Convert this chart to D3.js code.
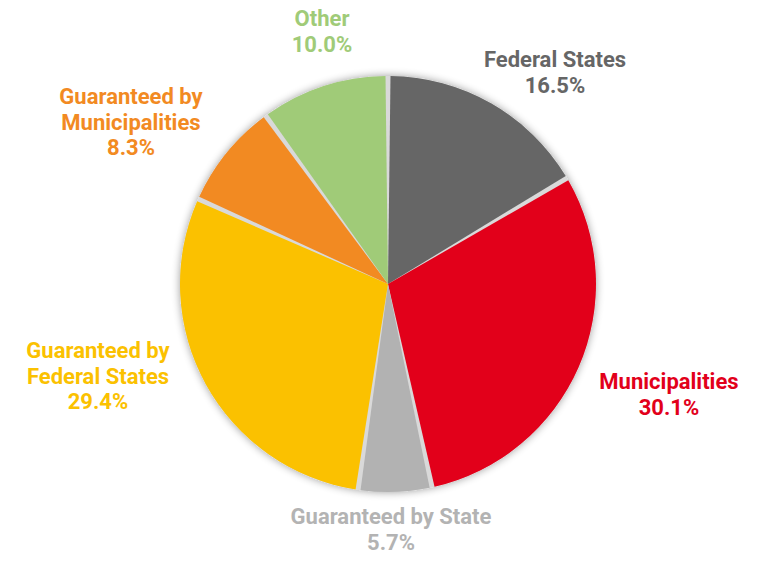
<!DOCTYPE html>
<html>
<head>
<meta charset="utf-8">
<script src="https://cdn.jsdelivr.net/npm/d3@7"></script>
<style>
  body { margin: 0; background: #fff; }
  text { font-family: Roboto, "Noto Sans", sans-serif; font-weight: 700; }
</style>
</head>
<body>
<div id="chart"></div>
<script>
var width = 769;
var height = 561;

// data
var categories = ["Federal States", "Municipalities", "Guaranteed by State",
  "Guaranteed by Federal States", "Guaranteed by Municipalities", "Other"];
var shares = [16.5, 30.1, 5.7, 29.4, 8.3, 10.0];
var colors = ["#666666", "#e2001a", "#b2b2b2", "#fbc100", "#f28a22", "#a0cb78"];
var labelLines = [
  ["Federal States"],
  ["Municipalities"],
  ["Guaranteed by State"],
  ["Guaranteed by", "Federal States"],
  ["Guaranteed by", "Municipalities"],
  ["Other"]
];

// label placement (x center, first baseline)
var labelPos = [[555, 67], [669, 389], [391, 524], [98, 358], [131, 104], [322, 26]];
var lineHeight = 25.5;

var cx = 388, cy = 284, radius = 208;

var svg = d3.select("#chart").append("svg")
  .attr("width", width)
  .attr("height", height);

var defs = svg.append("defs");
var shadow = defs.append("filter")
  .attr("id", "shadow")
  .attr("x", "-20%").attr("y", "-20%")
  .attr("width", "140%").attr("height", "140%");
shadow.append("feGaussianBlur").attr("in", "SourceAlpha").attr("stdDeviation", 4);
shadow.append("feComponentTransfer").append("feFuncA").attr("type", "linear").attr("slope", 0.4);
var merge = shadow.append("feMerge");
merge.append("feMergeNode");
merge.append("feMergeNode").attr("in", "SourceGraphic");

var g = svg.append("g").attr("transform", "translate(" + cx + "," + cy + ")");

g.append("circle")
  .attr("r", radius)
  .attr("fill", "#d9d9d9")
  .attr("filter", "url(#shadow)");

var pie = d3.pie().sort(null).value(function(d) { return d; });
var arcs = pie(shares);

var arc = d3.arc()
  .innerRadius(0)
  .outerRadius(radius)
  .padAngle(5 / radius)
  .padRadius(radius);

g.selectAll("path.slice")
  .data(arcs)
  .enter()
  .append("path")
  .attr("class", "slice")
  .attr("d", arc)
  .attr("fill", function(d, i) { return colors[i]; });

var labels = svg.selectAll("text.lbl")
  .data(arcs)
  .enter()
  .append("text")
  .attr("class", "lbl")
  .attr("text-anchor", "middle")
  .attr("font-size", 22)
  .attr("fill", function(d, i) { return colors[i] == "#b2b2b2" ? "#b3b3b3" : colors[i]; });

labels.each(function(d, i) {
  var t = d3.select(this);
  var lines = labelLines[i].concat([shares[i].toFixed(1) + "%"]);
  lines.forEach(function(line, j) {
    t.append("tspan")
      .attr("x", labelPos[i][0])
      .attr("y", labelPos[i][1] + j * lineHeight)
      .text(line);
  });
});
</script>
</body>
</html>
